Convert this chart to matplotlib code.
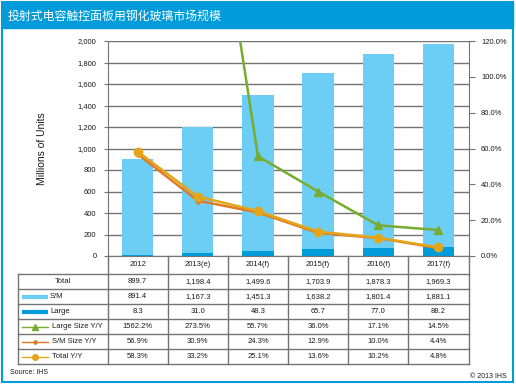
import matplotlib
matplotlib.use('Agg')
import matplotlib.pyplot as plt
from matplotlib.patches import Rectangle
from matplotlib.lines import Line2D

plt.rcParams['font.family'] = ['Liberation Sans', 'DejaVu Sans']

years = ['2012', '2013(e)', '2014(f)', '2015(f)', '2016(f)', '2017(f)']
total = [899.7, 1198.4, 1499.6, 1703.9, 1878.3, 1969.3]
sm = [891.4, 1167.3, 1451.3, 1638.2, 1801.4, 1881.1]
large = [8.3, 31.0, 48.3, 65.7, 77.0, 88.2]
large_yy = [1562.2, 273.5, 55.7, 36.0, 17.1, 14.5]
sm_yy = [56.9, 30.9, 24.3, 12.9, 10.0, 4.4]
total_yy = [58.3, 33.2, 25.1, 13.6, 10.2, 4.8]

title = '投射式电容触控面板用钢化玻璃市场规模'
blue = '#009BDB'
light = '#6DCEF5'
green = '#77AC30'
orange = '#E07A22'
gold = '#E3A51A'
grid_c = '#737373'
txt = '#1a1a1a'

W, H = 516, 385
fig = plt.figure(figsize=(W / 100, H / 100), dpi=100)

def fx(p):
    return p / W

def fy(p):
    return 1 - p / H

# frame + title bar
fig.patches.append(Rectangle((fx(2), fy(382)), fx(511), (380) / H, transform=fig.transFigure,
                             fill=False, edgecolor=blue, lw=1.5))
fig.patches.append(Rectangle((fx(2), fy(28)), fx(511), 25 / H, transform=fig.transFigure,
                             facecolor=blue, edgecolor=blue))
fig.text(fx(8), fy(16), title, color='white', fontsize=8.6, va='center', ha='left',
         family=['Noto Sans CJK SC', 'DejaVu Sans'])

x0, x1, ytop, ybot = 107.5, 468.5, 41, 256
ax = fig.add_axes([fx(x0), fy(ybot), (x1 - x0) / W, (ybot - ytop) / H])
x = list(range(len(years)))
ax.bar(x, large, width=0.52, color=blue, zorder=2)
ax.bar(x, sm, width=0.52, bottom=large, color=light, zorder=2)
ax.set_xlim(-0.5, 5.5)
ax.set_ylim(0, 2000)
ax.set_yticks(range(0, 2001, 200))
ax.set_yticklabels([f'{v:,}' for v in range(0, 2001, 200)])
ax.set_xticks([i - 0.5 for i in range(7)])
ax.set_xticklabels([])
ax.grid(axis='y', color=grid_c, lw=1)
ax.set_axisbelow(True)
for s in ['top', 'right']:
    ax.spines[s].set_visible(False)
for s in ['left', 'bottom']:
    ax.spines[s].set_color(grid_c)
ax.tick_params(axis='y', length=3, color=grid_c, labelsize=5.5, pad=5, labelcolor=txt)
ax.tick_params(axis='x', length=4, color=grid_c)
ax.set_ylabel('Millions of Units', fontsize=7.5, labelpad=22, color=txt)

ax2 = ax.twinx()
ax2.plot(x, large_yy, color=green, lw=1.8, marker='^', ms=6, zorder=3)
ax2.plot(x, sm_yy, color=orange, lw=1.8, marker='D', ms=3, zorder=3)
ax2.plot(x, total_yy, color=gold, lw=1.8, marker='o', ms=6, zorder=4)
ax2.set_ylim(0, 120)
ax2.set_yticks(range(0, 121, 20))
ax2.set_yticklabels([f'{v:.1f}%' for v in range(0, 121, 20)])
for s in ['top', 'left', 'bottom']:
    ax2.spines[s].set_visible(False)
ax2.spines['right'].set_color(grid_c)
ax2.tick_params(axis='y', length=4, color=grid_c, labelsize=5.5, pad=5, labelcolor=txt)

# data table under the chart
tl, tb = 18, 364
cw = (x1 - x0) / 6
tax = fig.add_axes([fx(tl), fy(tb), (x1 - tl) / W, (tb - ybot) / H])
tax.set_xlim(tl, x1)
tax.set_ylim(tb, ybot)
tax.axis('off')
rows = [256, 274, 289, 304, 319, 334, 349, 364]
lk = dict(color=grid_c, lw=1, clip_on=False)
for i in range(7):
    tax.plot([x0 + cw * i] * 2, [rows[0], rows[-1]], **lk)
tax.plot([tl, tl], [rows[1], rows[-1]], **lk)
for r in rows[1:]:
    tax.plot([tl, x1], [r, r], **lk)
for i, yr in enumerate(years):
    tax.text(x0 + cw * (i + 0.5), (rows[0] + rows[1]) / 2, yr, ha='center', va='center',
             fontsize=5.5, color=txt)

row_vals = [
    [f'{v:,.1f}' for v in total],
    [f'{v:,.1f}' for v in sm],
    [f'{v:,.1f}' for v in large],
    [f'{v:.1f}%' for v in large_yy],
    [f'{v:.1f}%' for v in sm_yy],
    [f'{v:.1f}%' for v in total_yy],
]
for r, vals in enumerate(row_vals):
    yc = (rows[r + 1] + rows[r + 2]) / 2
    for i, v in enumerate(vals):
        tax.text(x0 + cw * (i + 0.5), yc, v, ha='center', va='center', fontsize=5.5, color=txt)

def yc(r):
    return (rows[r + 1] + rows[r + 2]) / 2

tax.text((tl + x0) / 2, yc(0), 'Total', ha='center', va='center', fontsize=5.5, color=txt)
tax.plot([22, 48], [yc(1)] * 2, color=light, lw=3, solid_capstyle='butt')
tax.text(50, yc(1), 'S/M', ha='left', va='center', fontsize=5.5, color=txt)
tax.plot([22, 48], [yc(2)] * 2, color=blue, lw=3, solid_capstyle='butt')
tax.text(50, yc(2), 'Large', ha='left', va='center', fontsize=5.5, color=txt)
keys = [(green, '^', 4, 'Large Size Y/Y'), (orange, 'D', 2, 'S/M Size Y/Y'), (gold, 'o', 4, 'Total Y/Y')]
for k, (c, m, ms, lab) in enumerate(keys):
    tax.plot([22, 48], [yc(3 + k)] * 2, color=c, lw=1)
    tax.plot([35], [yc(3 + k)], color=c, marker=m, ms=ms)
    tax.text(52, yc(3 + k), lab, ha='left', va='center', fontsize=5.5, color=txt)

fig.text(fx(10), fy(373), 'Source: IHS', fontsize=5, va='center', color=txt)
fig.text(fx(507), fy(377), '© 2013 IHS', fontsize=5, va='center', ha='right', color=txt)

fig.savefig('out.png', dpi=100)
